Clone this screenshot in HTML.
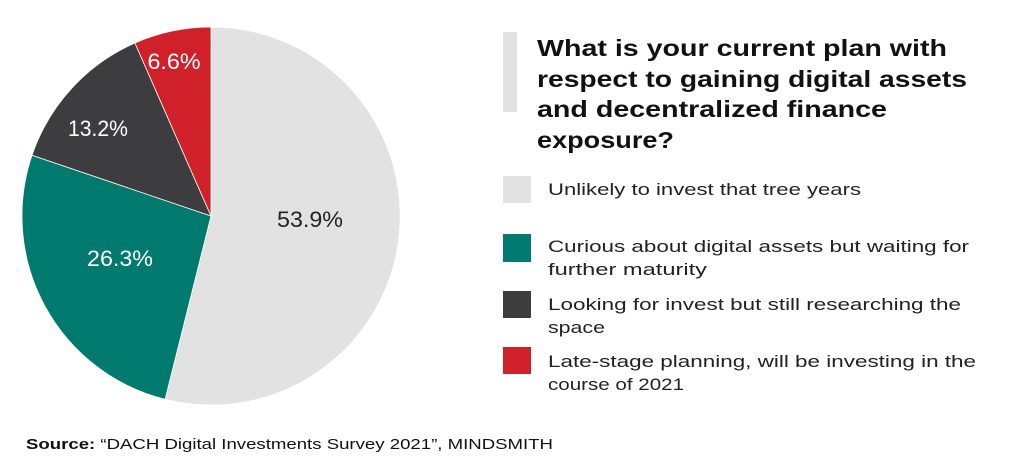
<!DOCTYPE html>
<html><head><meta charset="utf-8"><style>
html,body{margin:0;padding:0;background:#fff;}
svg{display:block;font-family:"Liberation Sans",sans-serif;}
</style></head><body>
<svg width="1024" height="474" viewBox="0 0 1024 474" xmlns="http://www.w3.org/2000/svg">
<g stroke="#fff" stroke-width="0.8">
<path d="M211,216 L211,27 A189,189 0 1 1 165.1,399.3 Z" fill="#e2e2e2"/>
<path d="M211,216 L165.1,399.3 A189,189 0 0 1 32.0,155.3 Z" fill="#007a6e"/>
<path d="M211,216 L32.0,155.3 A189,189 0 0 1 134.9,43.0 Z" fill="#3d3c3e"/>
<path d="M211,216 L134.9,43.0 A189,189 0 0 1 211,27 Z" fill="#d0202a"/>
</g>
<g font-size="22" text-anchor="middle">
<text x="174" y="69" fill="#fff" textLength="53" lengthAdjust="spacingAndGlyphs">6.6%</text>
<text x="98" y="136" fill="#fff" textLength="60" lengthAdjust="spacingAndGlyphs">13.2%</text>
<text x="310" y="227" fill="#222" textLength="66" lengthAdjust="spacingAndGlyphs">53.9%</text>
<text x="120" y="266" fill="#fff" textLength="66" lengthAdjust="spacingAndGlyphs">26.3%</text>
</g>
<rect x="503" y="32" width="14" height="80" fill="#e2e2e2"/>
<g font-size="23" font-weight="bold" fill="#111">
<text x="537" y="56" textLength="410" lengthAdjust="spacingAndGlyphs">What is your current plan with</text>
<text x="537" y="87" textLength="430" lengthAdjust="spacingAndGlyphs">respect to gaining digital assets</text>
<text x="537" y="117" textLength="350" lengthAdjust="spacingAndGlyphs">and decentralized finance</text>
<text x="537" y="148" textLength="137" lengthAdjust="spacingAndGlyphs">exposure?</text>
</g>
<rect x="503" y="176" width="28" height="27" fill="#e2e2e2"/>
<rect x="503" y="234" width="28" height="28" fill="#007a6e"/>
<rect x="503" y="291" width="28" height="27" fill="#3d3c3e"/>
<rect x="503" y="347" width="28" height="27" fill="#d0202a"/>
<g font-size="17" fill="#222">
<text x="548" y="195" textLength="313" lengthAdjust="spacingAndGlyphs">Unlikely to invest that tree years</text>
<text x="548" y="252" textLength="421" lengthAdjust="spacingAndGlyphs">Curious about digital assets but waiting for</text>
<text x="548" y="275" textLength="159" lengthAdjust="spacingAndGlyphs">further maturity</text>
<text x="548" y="310" textLength="413" lengthAdjust="spacingAndGlyphs">Looking for invest but still researching the</text>
<text x="548" y="333" textLength="57" lengthAdjust="spacingAndGlyphs">space</text>
<text x="548" y="367" textLength="428" lengthAdjust="spacingAndGlyphs">Late-stage planning, will be investing in the</text>
<text x="548" y="390" textLength="136" lengthAdjust="spacingAndGlyphs">course of 2021</text>
</g>
<text x="26" y="449" font-size="15" fill="#111" textLength="527" lengthAdjust="spacingAndGlyphs"><tspan font-weight="bold">Source:</tspan> “DACH Digital Investments Survey 2021”, MINDSMITH</text>
</svg>
</body></html>
